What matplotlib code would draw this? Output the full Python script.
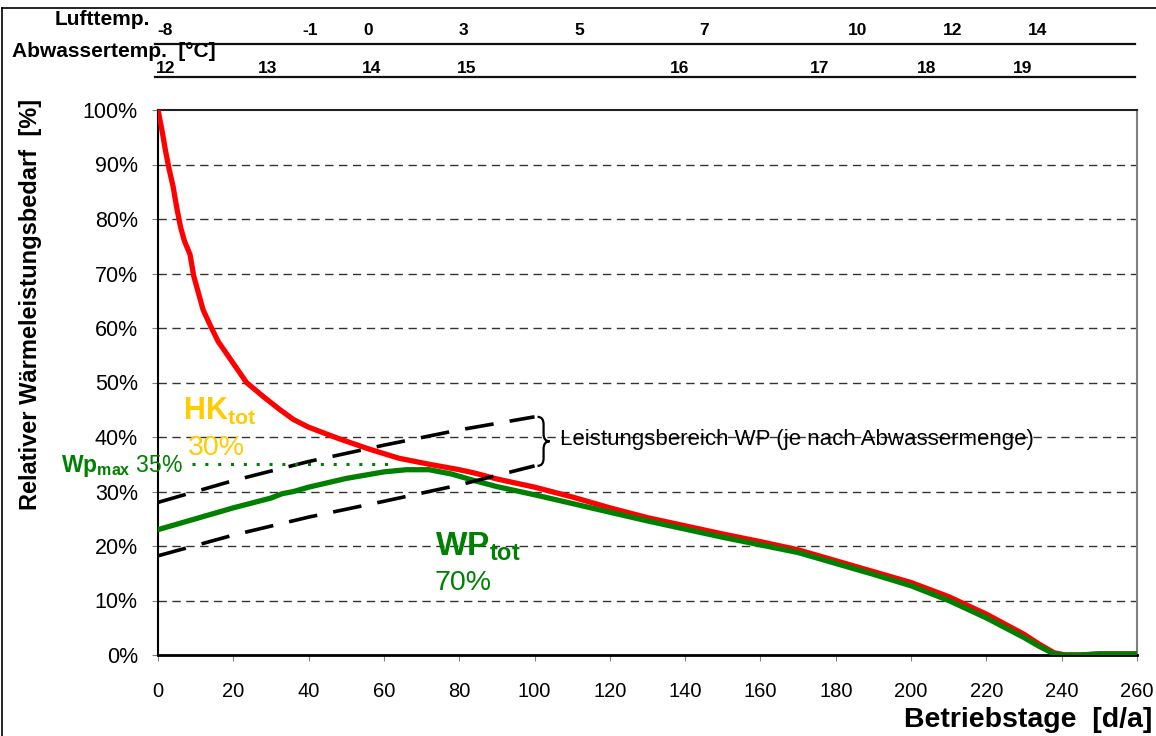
import numpy as np
import matplotlib
matplotlib.use("Agg")
import matplotlib.pyplot as plt
from matplotlib.path import Path
from matplotlib.patches import PathPatch
from matplotlib.lines import Line2D

plt.rcParams['font.family'] = ['Liberation Sans', 'DejaVu Sans']
plt.rcParams['mathtext.fontset'] = 'custom'
plt.rcParams['mathtext.rm'] = 'Liberation Sans'
plt.rcParams['mathtext.bf'] = 'Liberation Sans:bold'

# Total heat demand (HK + WP), % of design load over operating days
hk_days = [0, 1, 2, 3, 4, 5, 6, 7, 8.5, 9.5, 12, 14, 16, 20, 23.5, 28, 32.4,
           36, 40, 48, 56, 64, 72, 80, 84, 90, 100, 110, 120, 130, 140, 150, 160,
           170, 180, 190, 200, 210, 220, 230, 234, 238, 241, 245, 250, 260]
hk_total = [100, 96.5, 92.5, 89.0, 86.0, 82.0, 78.5, 76.0, 73.5, 69.5, 63.3, 60.3,
            57.5, 53.5, 50.0, 47.4, 45.0, 43.2, 41.8, 39.7, 37.8, 36.1, 35.0, 34.0,
            33.4, 32.3, 30.8, 29.0, 27.0, 25.2, 23.7, 22.2, 20.8, 19.3, 17.3, 15.3,
            13.3, 10.7, 7.5, 3.8, 2.0, 0.4, 0.0, 0.0, 0.2, 0.2]

# Heat pump share
wp_days = [0, 10, 20, 30, 33, 36, 40, 50, 60, 66, 72, 78, 84, 90, 100, 110, 120,
           130, 140, 150, 160, 170, 180, 190, 200, 210, 220, 230, 234, 238, 241,
           245, 250, 260]
wp_total = [23.0, 25.0, 27.0, 28.8, 29.6, 30.0, 30.8, 32.4, 33.6, 34.0, 34.0, 33.2,
            32.0, 30.9, 29.4, 27.8, 26.2, 24.6, 23.1, 21.6, 20.2, 18.8, 16.8, 14.8,
            12.7, 10.0, 6.8, 3.2, 1.6, 0.2, 0.0, 0.0, 0.2, 0.2]

# Heat pump output range depending on sewage flow
range_days = [0, 20, 40, 60, 80, 100]
range_upper = [28.0, 32.0, 35.5, 38.5, 41.3, 43.7]
range_lower = [18.2, 22.0, 25.3, 28.2, 31.2, 34.7]

wp_max = 35
wp_max_days = [9, 62]

# Temperature scales above the chart
luft_days = [2, 40.4, 55.8, 81, 112, 145, 185.7, 211, 233.5]
luft_labels = ['-8', '-1', '0', '3', '5', '7', '10', '12', '14']
abw_days = [2, 29.2, 56.6, 82, 138.4, 175.8, 204.2, 229.5]
abw_labels = ['12', '13', '14', '15', '16', '17', '18', '19']

x_ticks = np.arange(0, 261, 20)
y_ticks = np.arange(0, 101, 10)

RED = '#ff0000'
GREEN = '#008000'
GOLD = '#ffcc00'

fig = plt.figure(figsize=(11.56, 7.36), dpi=100)
ax = fig.add_axes([158 / 1156, 81 / 736, 979 / 1156, 545 / 736])

ax.set_xlim(0, 260)
ax.set_ylim(0, 100)
ax.set_xticks(x_ticks)
ax.set_yticks(y_ticks)
ax.set_yticklabels([f'{v}%' for v in y_ticks])
ax.tick_params(axis='both', direction='out', length=4.5, color='#808080')
ax.tick_params(axis='y', pad=10, labelsize=15.5)
ax.tick_params(axis='x', pad=15, labelsize=14.5)

for y in y_ticks[1:-1]:
    ax.axhline(y, color='#333333', lw=1, dashes=(6, 4), zorder=1)

ax.spines['left'].set_linewidth(1.5)
ax.spines['bottom'].set_linewidth(2)
ax.spines['top'].set_color('#222222')
ax.spines['top'].set_linewidth(1.5)
ax.spines['right'].set_color('#808080')
ax.spines['right'].set_linewidth(1.5)

ax.plot(hk_days, hk_total, color=RED, lw=3.8, zorder=3, solid_joinstyle='round')
ax.plot(wp_days, wp_total, color=GREEN, lw=3.8, zorder=4, solid_joinstyle='round')

ax.plot(range_days, range_upper, color='black', lw=2.6, dashes=(8, 4.5), zorder=5)
ax.plot(range_days, range_lower, color='black', lw=2.6, dashes=(8, 4.5), zorder=5)

ax.plot(wp_max_days, [wp_max, wp_max], color=GREEN, lw=2.2, dashes=(1, 3.2),
        zorder=5)


def curly_brace(x0, y0, y1, w, d):
    ym = (y0 + y1) / 2
    verts = [(x0, y1), (x0 + w, y1), (x0 + w, y1 - d),
             (x0 + w, ym + d),
             (x0 + w, ym), (x0 + 2 * w, ym),
             (x0 + w, ym), (x0 + w, ym - d),
             (x0 + w, y0 + d),
             (x0 + w, y0), (x0, y0)]
    codes = [Path.MOVETO, Path.CURVE3, Path.CURVE3, Path.LINETO,
             Path.CURVE3, Path.CURVE3, Path.CURVE3, Path.CURVE3,
             Path.LINETO, Path.CURVE3, Path.CURVE3]
    return Path(verts, codes)


brace = curly_brace(range_days[-1] + 0.8, range_lower[-1], range_upper[-1], 1.6, 1.4)
ax.add_patch(PathPatch(brace, fill=False, lw=1.6, color='black', zorder=5,
                       clip_on=False))
ax.text(106.8, 39.6, 'Leistungsbereich WP (je nach Abwassermenge)',
        fontsize=16, va='center', ha='left', zorder=6)

ax.text(16.5, 43.1, r'$\mathbf{HK_{tot}}$', color=GOLD, fontsize=22, ha='center',
        va='baseline')
ax.text(15.4, 36.7, '30%', color=GOLD, fontsize=20.5, ha='center', va='baseline')

ax.text(84.9, 18.2, r'$\mathbf{WP_{tot}}$', color=GREEN, fontsize=24, ha='center',
        va='baseline')
ax.text(81, 11.9, '70%', color=GREEN, fontsize=20.5, ha='center', va='baseline')

ax.text(6.6, 33.6, r'$\mathbf{Wp_{max}}$ 35%', color=GREEN, fontsize=16.5,
        ha='right', va='baseline', clip_on=False)

# Temperature scales on top of the plot area
top_tr = ax.get_xaxis_transform()
for x, s in zip(luft_days, luft_labels):
    ax.text(x, 1.145, s, transform=top_tr, fontsize=12.5, fontweight='bold',
            ha='center', va='center', clip_on=False)
for x, s in zip(abw_days, abw_labels):
    ax.text(x, 1.077, s, transform=top_tr, fontsize=12.5, fontweight='bold',
            ha='center', va='center', clip_on=False)
for yl in (1.121, 1.0606):
    ax.add_line(Line2D([-0.003, 0.998], [yl, yl], transform=ax.transAxes,
                       color='#111111', lw=1.6, clip_on=False))

ax.text(-0.008, 1.166, 'Lufttemp.', transform=ax.transAxes, fontsize=15,
        fontweight='bold', ha='right', va='center', clip_on=False)
ax.text(-0.149, 1.107, 'Abwassertemp.  [°C]', transform=ax.transAxes,
        fontsize=15, fontweight='bold', ha='left', va='center', clip_on=False)

fig.text(0.0268, 0.587, 'Relativer Wärmeleistungsbedarf  [%]', rotation=90,
         fontsize=17, fontweight='bold', ha='center', va='center')
fig.text(0.9965, 0.0217, 'Betriebstage  [d/a]', fontsize=20.5, fontweight='bold',
         ha='right', va='center')

# Thin frame around the figure (top and left edge)
fig.add_artist(Line2D([2 / 1156, 1], [728 / 736, 728 / 736], color='black', lw=1.2))
fig.add_artist(Line2D([2 / 1156, 2 / 1156], [0, 728 / 736], color='black', lw=1.2))

fig.savefig('out.png', dpi=100)
